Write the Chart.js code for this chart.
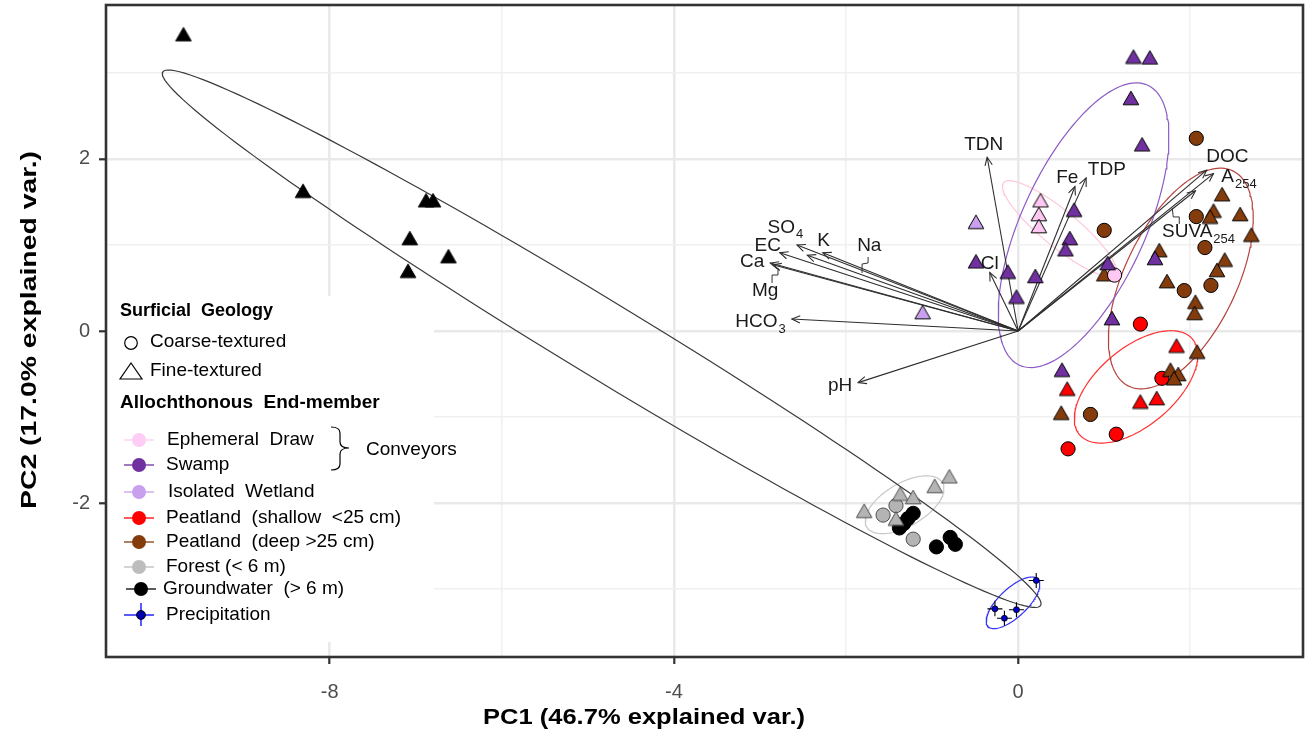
<!DOCTYPE html>
<html>
<head>
<meta charset="utf-8">
<script src="https://cdn.jsdelivr.net/npm/chart.js@4.4.1/dist/chart.umd.min.js"></script>
<style>
  html, body { margin: 0; padding: 0; background: #fff; }
  canvas { display: block; }
</style>
</head>
<body>
<canvas id="pca" width="1312" height="738"></canvas>
<script>
// PC1 / PC2 sample scores, one list per end-member and texture
const groundwaterFine = [[-9.70,3.45],[-8.31,1.63],[-6.88,1.52],[-6.80,1.52],[-7.07,1.08],[-6.62,0.87],[-7.09,0.70]];
const groundwaterCoarse = [[-1.22,-2.12],[-1.28,-2.18],[-1.33,-2.24],[-1.38,-2.29],[-0.95,-2.51],[-0.79,-2.40],[-0.73,-2.48]];
const forestFine = [[-1.79,-2.09],[-1.37,-1.89],[-1.22,-1.93],[-1.42,-2.18],[-0.97,-1.80],[-0.80,-1.69]];
const forestCoarse = [[-1.57,-2.14],[-1.42,-2.03],[-1.22,-2.42]];
const precipitation = [[-0.27,-3.23],[-0.16,-3.34],[-0.02,-3.24],[0.21,-2.90]];
const swampFine = [[1.34,3.19],[1.53,3.18],[1.31,2.71],[1.44,2.17],[0.65,1.41],[0.60,1.08],[0.55,0.95],[1.59,0.85],
  [1.04,0.79],[-0.49,0.81],[-0.12,0.69],[0.20,0.64],[-0.02,0.40],[1.09,0.15],[0.51,-0.45]];
const ephemeralFine = [[0.26,1.52],[0.24,1.36],[0.24,1.22]];
const ephemeralCoarse = [[1.12,0.65]];
const isolatedFine = [[-0.49,1.27],[-1.11,0.22]];
const peatShallowCoarse = [[1.42,0.08],[1.67,-0.55],[1.14,-1.20],[0.58,-1.37]];
const peatShallowFine = [[1.84,-0.17],[1.61,-0.78],[1.42,-0.82],[0.57,-0.67]];
const peatDeepCoarse = [[2.07,2.24],[1.00,1.17],[2.07,1.33],[2.17,0.97],[2.24,0.53],[1.93,0.47],[0.84,-0.97]];
const peatDeepFine = [[2.37,1.59],[2.27,1.40],[2.23,1.33],[2.58,1.36],[2.71,1.12],[1.64,0.94],[2.40,0.83],[2.31,0.71],
  [1.73,0.58],[2.06,0.34],[2.05,0.21],[1.00,0.66],[2.08,-0.24],[1.77,-0.45],[1.86,-0.50],[1.81,-0.55],[0.50,-0.95]];

// variable loadings (arrow tips)
const loadingNames = ['TDN','Cl','Fe','TDP','DOC','A254','SUVA254','SO4','EC','K','Na','Ca','Mg','HCO3','pH'];
const loadingPC1 = [-0.36,-0.33,0.66,0.79,2.19,2.27,2.06,-2.57,-2.77,-2.45,-2.27,-2.88,-2.85,-2.63,-1.86];
const loadingPC2 = [2.02,0.68,1.68,1.78,1.87,1.83,1.63,1.00,0.91,0.88,0.91,0.79,0.77,0.14,-0.60];

// normal data ellipses per group: centre, semi-axes, tilt (deg)
const ellipseGroups = ['Groundwater','Swamp','Ephemeral','PeatDeep','PeatShallow','Forest','Precipitation'];
const ellipseCx = [-4.84, 0.76, 0.48, 1.89, 1.37, -1.32, -0.06];
const ellipseCy = [-0.09, 1.23, 1.19, 0.61, -0.65, -2.02, -3.16];
const ellipseA = [5.97, 1.79, 0.84, 1.39, 0.86, 0.51, 0.40];
const ellipseB = [0.44, 0.72, 0.21, 0.65, 0.45, 0.25, 0.165];
const ellipseDeg = [-31.3, 65.4, -39.4, 64.2, 40.3, 30.4, 43.5];

const xMajor = [-8, -4, 0];
const xGrid = [-8, -6, -4, -2, 0, 2];
const yMajor = [-2, 0, 2];
const yGrid = [-3, -2, -1, 0, 1, 2, 3];

const FONT = '"Liberation Sans", Arial, Helvetica, sans-serif';

// where the loading labels sit (data units) and the little repel leaders
const labelPos = [[-0.40,2.16],[-0.33,0.78],[0.57,1.78],[1.03,1.87],[2.43,2.03],[2.56,1.79],[2.09,1.15],
  [-2.71,1.20],[-2.91,0.99],[-2.26,1.05],[-1.73,0.99],[-3.09,0.80],[-2.94,0.47],[-3.00,0.105],[-2.07,-0.64]];
const leaders = [
  [[-1.744,0.860],[-1.744,0.791],[-1.814,0.779],[-1.814,0.674]],
  [[-2.860,0.558],[-2.860,0.651],[-2.791,0.651],[-2.791,0.733]],
  [[1.791,1.430],[1.802,1.326],[1.872,1.326],[1.872,1.244]]
];

function pts(arr) { return arr.map(p => ({ x: p[0], y: p[1] })); }

// triangle marker centred on its box, like R's pch 24
function triangleImg(fill, edge) {
  const c = document.createElement('canvas');
  c.width = 18; c.height = 16;
  const g = c.getContext('2d');
  g.beginPath();
  g.moveTo(9, 1.2); g.lineTo(16.8, 14.8); g.lineTo(1.2, 14.8); g.closePath();
  g.fillStyle = fill; g.fill();
  g.lineWidth = 1; g.strokeStyle = edge; g.stroke();
  return c;
}

function markers(arr, fill, shape, edge) {
  const tri = shape === 'triangle';
  return {
    data: pts(arr), showLine: false, order: 1,
    pointStyle: tri ? triangleImg(fill, edge || '#000') : 'circle',
    pointRadius: tri ? 8 : 7.1,
    pointBackgroundColor: fill,
    pointBorderColor: edge || '#000',
    pointBorderWidth: 1
  };
}

function ellipsePts(i) {
  const t = ellipseDeg[i] * Math.PI / 180;
  const out = [];
  for (let k = 0; k <= 160; k++) {
    const u = k / 160 * 2 * Math.PI;
    const ex = ellipseA[i] * Math.cos(u), ey = ellipseB[i] * Math.sin(u);
    out.push({ x: ellipseCx[i] + ex * Math.cos(t) - ey * Math.sin(t),
               y: ellipseCy[i] + ex * Math.sin(t) + ey * Math.cos(t) });
  }
  return out;
}

const ellipseColors = ['#3a3a3a', '#8c5cc6', '#ffc8da', '#b5443f', '#ff3030', '#c8c8c8', '#3333f5'];

const datasets = [];
// points (order 1 = drawn on top; earlier index on top)
datasets.push(markers(swampFine, '#7030a0', 'triangle'));
datasets.push(markers(ephemeralCoarse, '#ffc8f2', 'circle'));
datasets.push(markers(ephemeralFine, '#ffc8f2', 'triangle'));
datasets.push(markers(isolatedFine, '#c9a0ee', 'triangle'));
datasets.push(markers(forestFine, '#b4b4b4', 'triangle', '#4d4d4d'));
datasets.push(markers(forestCoarse, '#b4b4b4', 'circle', '#4d4d4d'));
datasets.push(markers(peatDeepFine, '#843c0c', 'triangle'));
datasets.push(markers(peatDeepCoarse, '#843c0c', 'circle'));
datasets.push(markers(peatShallowFine, '#ff0000', 'triangle'));
datasets.push(markers(peatShallowCoarse, '#ff0000', 'circle'));
datasets.push(markers(groundwaterFine, '#000', 'triangle'));
datasets.push(markers(groundwaterCoarse, '#000', 'circle'));
datasets.push({ data: pts(precipitation), showLine: false, order: 1, pointStyle: 'circle',
  pointRadius: 3, pointBackgroundColor: '#0000c8', pointBorderColor: '#000', pointBorderWidth: 0.8 });
datasets.push({ data: pts(precipitation), showLine: false, order: 1, pointStyle: 'cross',
  pointRadius: 7.5, pointBorderColor: '#000', pointBorderWidth: 1.1 });

// loading arrows
loadingNames.forEach((n, i) => {
  datasets.push({ data: [{ x: 0, y: 0 }, { x: loadingPC1[i], y: loadingPC2[i] }], showLine: true,
    borderColor: '#2e2e2e', borderWidth: 1.1, pointRadius: 0, order: 2, fill: false });
});

// ellipses
ellipseGroups.forEach((g, i) => {
  datasets.push({ data: ellipsePts(i), showLine: true, borderColor: ellipseColors[i], borderWidth: 1.2,
    pointRadius: 0, order: 3, fill: false, tension: 0 });
});

function drawSubText(ctx, base, sub, cx, cy) {
  ctx.font = '19px ' + FONT;
  const wb = ctx.measureText(base).width;
  ctx.font = '13px ' + FONT;
  const ws = sub ? ctx.measureText(sub).width : 0;
  const x0 = cx - (wb + ws) / 2;
  ctx.textAlign = 'left';
  ctx.textBaseline = 'middle';
  ctx.font = '19px ' + FONT;
  ctx.fillText(base, x0, cy);
  if (sub) {
    ctx.font = '13px ' + FONT;
    ctx.fillText(sub, x0 + wb + 1, cy + 7);
  }
}

function splitName(n) {
  const m = n.match(/^([A-Za-z]+?)(\d+)$/);
  if (m && n !== 'pH') return [m[1], m[2]];
  return [n, ''];
}

const legendRows = [
  ['Ephemeral  Draw', '#ffccf5', 440, 167],
  ['Swamp', '#7030a0', 465, 166],
  ['Isolated  Wetland', '#c9a0ee', 492, 168],
  ['Peatland  (shallow  <25 cm)', '#ff0000', 518, 166],
  ['Peatland  (deep >25 cm)', '#843c0c', 542, 166],
  ['Forest (< 6 m)', '#bdbdbd', 567, 166],
  ['Groundwater  (> 6 m)', '#000000', 589, 163],
  ['Precipitation', '#0000ff', 615, 166]
];

function drawLegend(ctx) {
  ctx.save();
  ctx.fillStyle = '#000';
  ctx.textAlign = 'left';
  ctx.textBaseline = 'middle';
  ctx.font = 'bold 18px ' + FONT;
  ctx.fillText('Surficial  Geology', 120, 311);
  ctx.strokeStyle = '#000';
  ctx.lineWidth = 1.2;
  ctx.beginPath(); ctx.arc(131, 343, 6.3, 0, 2 * Math.PI); ctx.stroke();
  ctx.beginPath(); ctx.moveTo(131, 363); ctx.lineTo(142, 379); ctx.lineTo(120, 379); ctx.closePath(); ctx.stroke();
  ctx.font = '19px ' + FONT;
  ctx.fillText('Coarse-textured', 150, 342);
  ctx.fillText('Fine-textured', 150, 371);
  ctx.font = 'bold 19px ' + FONT;
  ctx.fillText('Allochthonous  End-member', 120, 403);

  legendRows.forEach(([txt, col, y, tx], i) => {
    const cx = i === 6 ? 141 : 139;
    ctx.strokeStyle = col;
    ctx.lineWidth = 1.3;
    ctx.beginPath(); ctx.moveTo(cx - 15, y); ctx.lineTo(cx + 15, y); ctx.stroke();
    if (i === 7) {
      ctx.beginPath(); ctx.moveTo(141, y - 12); ctx.lineTo(141, y + 11); ctx.stroke();
      ctx.fillStyle = '#0000aa';
      ctx.beginPath(); ctx.arc(141, y, 4.5, 0, 2 * Math.PI); ctx.fill();
      ctx.strokeStyle = '#000'; ctx.lineWidth = 0.8; ctx.stroke();
    } else {
      ctx.fillStyle = col;
      ctx.beginPath(); ctx.arc(cx, y, 7, 0, 2 * Math.PI); ctx.fill();
    }
    ctx.fillStyle = '#000';
    ctx.font = '19px ' + FONT;
    ctx.fillText(txt, tx, y);
  });

  // brace for the conveyors
  ctx.strokeStyle = '#000';
  ctx.lineWidth = 1.2;
  ctx.beginPath();
  ctx.moveTo(331, 427);
  ctx.quadraticCurveTo(340, 427, 340, 433);
  ctx.lineTo(340, 442);
  ctx.quadraticCurveTo(340, 448, 349, 448);
  ctx.quadraticCurveTo(340, 448, 340, 454);
  ctx.lineTo(340, 464);
  ctx.quadraticCurveTo(340, 470, 331, 470);
  ctx.stroke();
  ctx.fillText('Conveyors', 366, 450);
  ctx.restore();
}

function fitTitle(ctx, text, cx, cy, target, rotate) {
  ctx.save();
  ctx.translate(cx, cy);
  if (rotate) ctx.rotate(-Math.PI / 2);
  ctx.font = 'bold 22px ' + FONT;
  const w = ctx.measureText(text).width;
  ctx.scale(target / w, 1);
  ctx.fillStyle = '#000';
  ctx.textAlign = 'center';
  ctx.textBaseline = 'middle';
  ctx.fillText(text, 0, 0);
  ctx.restore();
}

const biplotDecor = {
  id: 'biplotDecor',
  beforeDatasetsDraw(chart) {
    const ctx = chart.ctx;
    ctx.save();
    ctx.fillStyle = '#fff';
    ctx.fillRect(chart.chartArea.left + 1, 296, 433 - chart.chartArea.left, 346);
    ctx.restore();
  },
  afterDatasetsDraw(chart) {
    const ctx = chart.ctx;
    const xs = chart.scales.x, ys = chart.scales.y;
    const ox = xs.getPixelForValue(0), oy = ys.getPixelForValue(0);
    ctx.save();
    ctx.strokeStyle = '#2e2e2e';
    ctx.lineWidth = 1.1;
    loadingNames.forEach((n, i) => {
      const tx = xs.getPixelForValue(loadingPC1[i]), ty = ys.getPixelForValue(loadingPC2[i]);
      const a = Math.atan2(ty - oy, tx - ox), L = 9, s = 0.42;
      ctx.beginPath();
      ctx.moveTo(tx - L * Math.cos(a - s), ty - L * Math.sin(a - s));
      ctx.lineTo(tx, ty);
      ctx.lineTo(tx - L * Math.cos(a + s), ty - L * Math.sin(a + s));
      ctx.stroke();
    });
    ctx.strokeStyle = '#333';
    ctx.lineWidth = 1;
    leaders.forEach(seg => {
      ctx.beginPath();
      seg.forEach((p, k) => {
        const px = xs.getPixelForValue(p[0]), py = ys.getPixelForValue(p[1]);
        if (k === 0) ctx.moveTo(px, py); else ctx.lineTo(px, py);
      });
      ctx.stroke();
    });
    ctx.fillStyle = '#1a1a1a';
    loadingNames.forEach((n, i) => {
      const [b, sub] = splitName(n);
      drawSubText(ctx, b, sub, xs.getPixelForValue(labelPos[i][0]), ys.getPixelForValue(labelPos[i][1]));
    });
    ctx.restore();
    drawLegend(ctx);
  },
  afterDraw(chart) {
    const ctx = chart.ctx;
    const { left, right, top, bottom } = chart.chartArea;
    ctx.save();
    ctx.strokeStyle = '#333';
    ctx.lineWidth = 2.6;
    ctx.strokeRect(left, top, right - left, bottom - top);
    ctx.restore();
    fitTitle(ctx, 'PC1 (46.7% explained var.)', 644, 718, 322, false);
    fitTitle(ctx, 'PC2 (17.0% explained var.)', 30, 330, 358, true);
  }
};

function gridStyle(major) {
  return {
    color: c => major.includes(c.tick.value) ? '#e9e9e9' : '#f0f0f0',
    lineWidth: c => major.includes(c.tick.value) ? 2.6 : 1.6,
    tickColor: c => major.includes(c.tick.value) ? '#333' : 'rgba(0,0,0,0)',
    tickLength: 7,
    tickWidth: 2.2,
    drawTicks: true
  };
}

new Chart(document.getElementById('pca'), {
  type: 'scatter',
  data: { datasets },
  options: {
    responsive: false,
    animation: false,
    devicePixelRatio: 1,
    layout: { autoPadding: false, padding: { left: 0, right: 9, top: 5, bottom: 0 } },
    plugins: { legend: { display: false }, tooltip: { enabled: false } },
    scales: {
      x: {
        type: 'linear', min: -10.6, max: 3.31,
        afterFit: s => { s.height = 81; s.paddingLeft = 0; s.paddingRight = 0; },
        afterBuildTicks: s => { s.ticks = xGrid.map(v => ({ value: v })); },
        ticks: { callback: v => xMajor.includes(v) ? String(v) : '', color: '#4d4d4d',
          font: { family: FONT, size: 20 }, padding: 16, autoSkip: false, maxRotation: 0 },
        grid: gridStyle(xMajor),
        border: { display: false }
      },
      y: {
        type: 'linear', min: -3.79, max: 3.79,
        afterFit: s => { s.width = 106; s.paddingTop = 0; s.paddingBottom = 0; },
        afterBuildTicks: s => { s.ticks = yGrid.map(v => ({ value: v })); },
        ticks: { callback: v => yMajor.includes(v) ? String(v) : '', color: '#4d4d4d',
          font: { family: FONT, size: 20 }, padding: 9, autoSkip: false },
        grid: gridStyle(yMajor),
        border: { display: false }
      }
    }
  },
  plugins: [biplotDecor]
});
</script>
</body>
</html>
